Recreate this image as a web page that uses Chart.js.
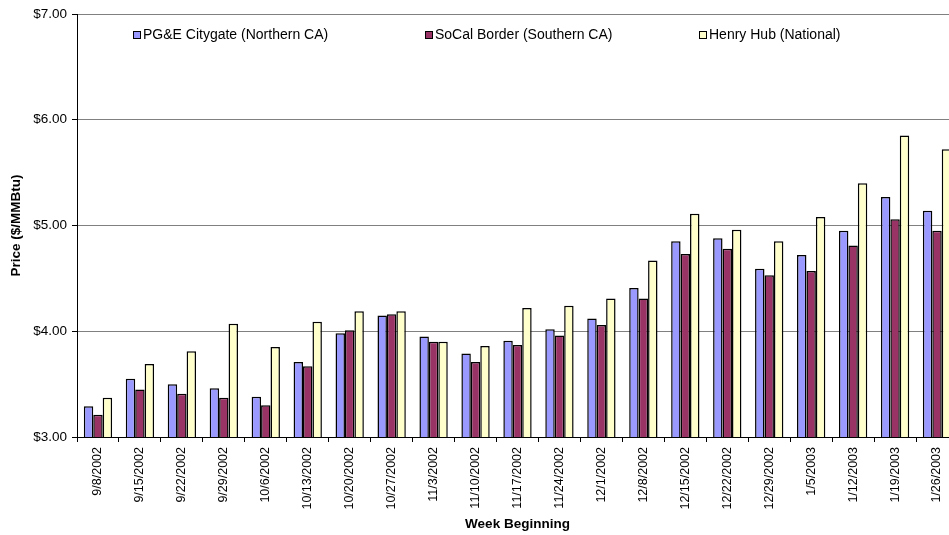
<!DOCTYPE html>
<html>
<head>
<meta charset="utf-8">
<script src="https://cdn.jsdelivr.net/npm/chart.js@4.4.1/dist/chart.umd.min.js"></script>
<style>
  html, body { margin: 0; padding: 0; background: #fff; }
  #wrap { width: 949px; height: 535px; overflow: hidden; position: relative; }
  canvas { display: block; }
</style>
</head>
<body>
<div id="wrap"><canvas id="c" width="970" height="535"></canvas></div>
<script>
// Weekly natural gas prices, $/MMBtu
const weeks = ['9/8/2002', '9/15/2002', '9/22/2002', '9/29/2002', '10/6/2002', '10/13/2002',
  '10/20/2002', '10/27/2002', '11/3/2002', '11/10/2002', '11/17/2002', '11/24/2002',
  '12/1/2002', '12/8/2002', '12/15/2002', '12/22/2002', '12/29/2002', '1/5/2003',
  '1/12/2003', '1/19/2003', '1/26/2003'];
const pgeCitygate = [3.29, 3.55, 3.50, 3.46, 3.38, 3.71, 3.98, 4.15, 3.95, 3.79, 3.91, 4.02,
  4.12, 4.41, 4.85, 4.88, 4.59, 4.72, 4.95, 5.27, 5.14];
const socalBorder = [3.21, 3.45, 3.41, 3.37, 3.30, 3.67, 4.01, 4.16, 3.90, 3.71, 3.87, 3.96,
  4.06, 4.31, 4.73, 4.78, 4.53, 4.57, 4.81, 5.06, 4.95];
const henryHub = [3.37, 3.69, 3.81, 4.07, 3.85, 4.09, 4.19, 4.19, 3.90, 3.86, 4.22, 4.24,
  4.31, 4.67, 5.11, 4.96, 4.85, 5.08, 5.40, 5.85, 5.72];
const seriesNames = ['PG&E Citygate (Northern CA)', 'SoCal Border (Southern CA)', 'Henry Hub (National)'];
const priceTicks = [3, 4, 5, 6, 7];

const FONT = 'Liberation Sans, Arial, sans-serif';

// Legend drawn inside the plot, one row across the top
const insideLegend = {
  id: 'insideLegend',
  afterDraw(chart) {
    const ctx = chart.ctx;
    const area = chart.chartArea;
    const offsets = [56, 348, 622];
    ctx.save();
    ctx.font = '14px ' + FONT;
    ctx.textBaseline = 'middle';
    chart.data.datasets.forEach((ds, i) => {
      const x = area.left + offsets[i];
      const y = area.top + 21;
      ctx.fillStyle = ds.backgroundColor;
      ctx.fillRect(x, y - 4, 8, 8);
      ctx.strokeStyle = '#000';
      ctx.lineWidth = 1;
      ctx.strokeRect(x + 0.5, y - 3.5, 7, 7);
      ctx.fillStyle = '#000';
      ctx.fillText(ds.label, x + 10, y + 0.5);
    });
    ctx.restore();
  }
};

const barStyle = { borderColor: '#000', borderWidth: 1.5, borderSkipped: 'start' };

new Chart(document.getElementById('c'), {
  type: 'bar',
  data: {
    labels: weeks,
    datasets: [
      Object.assign({ label: seriesNames[0], data: pgeCitygate, backgroundColor: '#9999FF' }, barStyle),
      Object.assign({ label: seriesNames[1], data: socalBorder, backgroundColor: '#993366' }, barStyle),
      Object.assign({ label: seriesNames[2], data: henryHub, backgroundColor: '#FFFFCC' }, barStyle)
    ]
  },
  options: {
    responsive: false,
    animation: false,
    devicePixelRatio: 1,
    layout: { padding: { top: 14, right: 12, bottom: 0, left: 0 } },
    datasets: { bar: { categoryPercentage: 0.675, barPercentage: 1.0 } },
    plugins: {
      legend: { display: false },
      tooltip: { enabled: false }
    },
    scales: {
      x: {
        grid: { offset: true, drawOnChartArea: false, drawTicks: true, tickLength: 5, color: '#000', tickColor: '#000' },
        border: { color: '#000', width: 1 },
        ticks: {
          autoSkip: false, minRotation: 90, maxRotation: 90, padding: 5,
          color: '#000', font: { family: FONT, size: 12.5 }
        },
        title: {
          display: true, text: 'Week Beginning', color: '#000',
          font: { family: FONT, size: 13.5, weight: 'bold' }, padding: { top: 4, bottom: 3 }
        },
        afterFit(scale) { scale.height = 98; }
      },
      y: {
        min: 3, max: 7,
        afterBuildTicks(scale) { scale.ticks = priceTicks.map(v => ({ value: v })); },
        grid: { color: '#808080', lineWidth: 1, tickLength: 5, tickColor: '#000' },
        border: { color: '#000', width: 1 },
        ticks: {
          padding: 5, color: '#000', font: { family: FONT, size: 13.5 },
          callback: v => '$' + Number(v).toFixed(2)
        },
        title: {
          display: true, text: 'Price ($/MMBtu)', color: '#000',
          font: { family: FONT, size: 13.5, weight: 'bold' }, padding: { top: 8, bottom: 4 }
        },
        afterFit(scale) { scale.width = 77; }
      }
    }
  },
  plugins: [insideLegend]
});
</script>
</body>
</html>
